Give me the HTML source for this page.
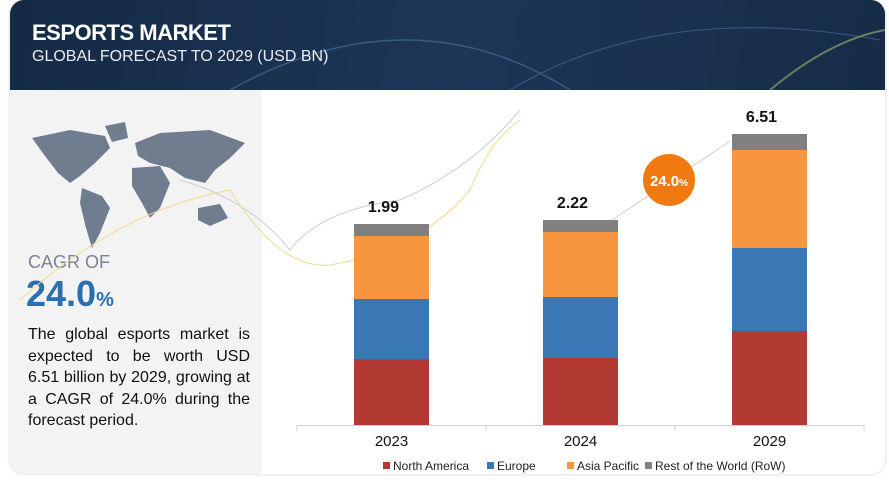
<!DOCTYPE html>
<html><head><meta charset="utf-8"><style>
body{margin:0;width:889px;height:483px;background:#fff;overflow:hidden;font-family:"Liberation Sans",sans-serif;position:relative}
.card{position:absolute;left:10px;top:0;width:875px;height:474px;border-radius:14px;overflow:hidden;box-shadow:0 0 3px #ccc}
.hdr{position:absolute;left:0;top:0;width:875px;height:90px;background:linear-gradient(100deg,#142a45,#1d3657 50%,#162c47)}
.left{position:absolute;left:0;top:90px;width:252px;height:384px;background:#f3f3f4}
.t1{position:absolute;left:22px;top:20px;color:#fff;font-weight:bold;font-size:22px;letter-spacing:-0.5px}
.t2{position:absolute;left:22px;top:48px;color:#e8ecf2;font-size:16px}
.cagr{position:absolute;left:18px;top:162px;color:#7a8594;font-size:18px}
.pct{position:absolute;left:16px;top:183px;color:#2a6fb0;font-size:36px;font-weight:bold}
.pct span{font-size:20px}
.para{position:absolute;left:18px;top:234px;width:222px;font-size:16px;line-height:21.5px;text-align:justify;color:#111}
</style></head><body>
<div class="card">
<div class="hdr">
<svg width="875" height="90" style="position:absolute;left:0;top:0"><path d="M220 90 Q 400 -10 560 90" stroke="#3a5a80" fill="none" stroke-width="1.5"/><path d="M500 90 Q 650 0 870 40" stroke="#3a5a80" fill="none"/><path d="M760 90 Q 820 40 875 30" stroke="#6a7f60" fill="none" stroke-width="2"/></svg>
<div class="t1">ESPORTS MARKET</div>
<div class="t2">GLOBAL FORECAST TO 2029 (USD BN)</div>
</div>
<div class="left">
<svg width="252" height="150" style="position:absolute;left:0;top:18px">
<g fill="#6f7d8f"><path d="M22 30 L60 22 L95 28 L100 40 L85 55 L70 68 L60 75 L48 65 L35 48 Z"/><path d="M95 18 L115 14 L118 30 L102 34 Z"/><path d="M72 80 L92 88 L100 100 L90 125 L82 140 L76 120 L70 95 Z"/><path d="M125 35 L150 25 L200 22 L235 35 L220 50 L205 62 L195 75 L175 70 L160 60 L140 55 L128 48 Z"/><path d="M122 60 L150 58 L160 75 L150 100 L140 110 L132 95 L122 78 Z"/><path d="M188 100 L210 96 L218 110 L200 118 L188 112 Z"/></g></svg>
<div class="cagr">CAGR OF</div>
<div class="pct">24.0<span>%</span></div>
<div class="para">The global esports market is expected to be worth USD 6.51 billion by 2029, growing at a CAGR of 24.0% during the forecast period.</div>
</div>
</div>
<svg id="chart" width="889" height="483" style="position:absolute;left:0;top:0"></svg>
<script>
const categories=["2023","2024","2029"];
const totals=["1.99","2.22","6.51"];
const northAmerica=[66,67,94];
const europe=[60,61,83];
const asiaPacific=[63,65,98];
const restOfWorld=[12,12,16];
const seriesNames=["North America","Europe","Asia Pacific","Rest of the World (RoW)"];
const colors=["#b33a32","#3a78b5","#f7963f","#808080"];
const NS="http://www.w3.org/2000/svg";
const svg=document.getElementById('chart');
const base=425,x0=297,x1=864,band=(x1-x0)/categories.length,barW=75;
const yScale=v=>v*1.0;
const xCenter=i=>x0+band*(i+0.5);
function mk(t,a){const e=document.createElementNS(NS,t);for(const k in a)e.setAttribute(k,a[k]);svg.appendChild(e);return e;}
let d1=mk('path',{d:'M180 180 Q 250 200 290 250 Q 320 210 400 200 Q 470 170 520 110',stroke:'#ccc',fill:'none','stroke-width':1});


let d2=mk('path',{d:'M20 300 Q 120 210 230 190 Q 280 270 330 265 Q 420 250 470 190 Q 490 140 520 120',stroke:'#f3d88a',fill:'none','stroke-width':1});


const series=[northAmerica,europe,asiaPacific,restOfWorld];
categories.forEach((c,i)=>{
 let y=base;
 series.forEach((s,j)=>{
  const h=yScale(s[i]);y-=h;
  const r=mk('rect',{x:xCenter(i)-barW/2,y:y,width:barW,height:h,fill:colors[j]});
  
  
 });
 const t=mk('text',{x:xCenter(i)-8,y:y-12,'text-anchor':'middle','font-size':16,'font-weight':'bold',fill:'#111'});
 t.textContent=totals[i];
 
 
 const l=mk('text',{x:xCenter(i),y:446,'text-anchor':'middle','font-size':15,fill:'#111'});
 l.textContent=c;
 
 
});
let ax=mk('line',{x1:x0,x2:x1,y1:base+.5,y2:base+.5,stroke:'#d0d0d0'});


for(let k=0;k<=categories.length;k++){const tk=mk('line',{x1:x0+band*k,x2:x0+band*k,y1:base,y2:base+6,stroke:'#d0d0d0'});

}
let ar=mk('line',{x1:612,y1:220,x2:730,y2:141,stroke:'#ccc'});


let ci=mk('circle',{cx:669,cy:180,r:26,fill:'#f07a10'});


let ct=mk('text',{x:669,y:186,'text-anchor':'middle','font-size':15,'font-weight':'bold',fill:'#fff'});
ct.innerHTML='24.0<tspan font-size="10">%</tspan>';


const lx=[383,487,567,645];
seriesNames.forEach((n,j)=>{
 const s=mk('rect',{x:lx[j],y:462,width:7,height:7,fill:colors[j]});
 
 
 const t=mk('text',{x:lx[j]+10,y:470,'font-size':12,fill:'#222'});
 t.textContent=n;
 
 
});
</script>
</body></html>
